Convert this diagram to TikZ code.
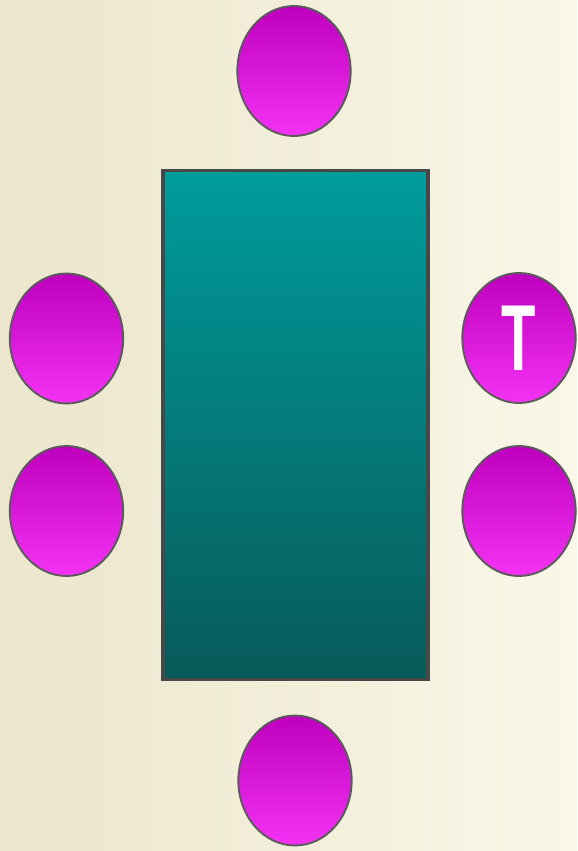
\documentclass[tikz,border=0pt]{standalone}
\usepackage{fontspec}
\setmainfont{Liberation Sans}
\usetikzlibrary{shapes.geometric}
\definecolor{sandL}{RGB}{235,230,204}
\definecolor{sandR}{RGB}{249,247,232}
\definecolor{tealT}{RGB}{0,156,156}
\definecolor{tealB}{RGB}{8,90,90}
\definecolor{plumT}{RGB}{190,0,190}
\definecolor{plumB}{RGB}{244,50,244}
\definecolor{rim}{RGB}{72,72,72}
\tikzset{
  seat/.style={ellipse, draw=rim!90, line width=1.6pt, inner sep=0pt,
    minimum width=3.4cm, minimum height=3.9cm, top color=plumT, bottom color=plumB},
  board/.style={rectangle, draw=rim, line width=2.6pt, inner sep=0pt,
    minimum width=7.95cm, minimum height=15.25cm, top color=tealT, bottom color=tealB}
}
\begin{document}
\begin{tikzpicture}[x=0.03cm, y=-0.03cm]
  % room
  \shade[left color=sandL, right color=sandR] (0,0) rectangle (577,851);
  \useasboundingbox (0,0) rectangle (577,851);
  % table
  \node[board] (table) at (295.5,425) {};
  % chairs
  \node[seat] (head) at (294,71) {};
  \node[seat] (foot) at (295,780.5) {};
  \node[seat] (west1) at (66.5,338.5) {};
  \node[seat] (west2) at (66.5,511) {};
  \node[seat] (east1) at (519,338) {};
  \node[seat] (east2) at (519,511) {};
  \node[white, font=\fontsize{80}{80}\selectfont\bfseries, xscale=0.6] (mark) at (east1) {T};
\end{tikzpicture}
\end{document}
